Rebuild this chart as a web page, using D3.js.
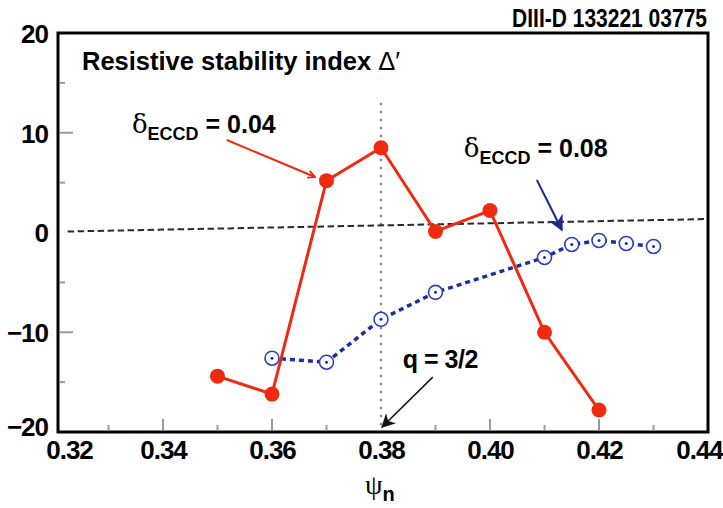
<!DOCTYPE html>
<meta charset="utf-8">
<head>
<style>
body { margin: 0; background: #fff; }
svg { display: block; font-family: "Liberation Sans", Arial, sans-serif; }
.lbl { font-weight: bold; fill: #000; }
.tick-in { stroke: #9a9a9a; stroke-width: 2px; }
</style>
</head>
<body>
<div id="chart"></div>
<script src="https://cdn.jsdelivr.net/npm/d3@7"></script>
<script>

// data
var psiRed   = [0.35, 0.36, 0.37, 0.38, 0.39, 0.40, 0.41, 0.42];
var deltaRed = [-14.4, -16.2, 5.2, 8.5, 0.1, 2.2, -10.0, -17.8];

var psiBlue   = [0.36, 0.37, 0.38, 0.39, 0.41, 0.415, 0.42, 0.425, 0.43];
var deltaBlue = [-12.6, -13.0, -8.7, -6.0, -2.5, -1.2, -0.8, -1.1, -1.4];

var xTicks = [0.32, 0.34, 0.36, 0.38, 0.40, 0.42, 0.44];
var yTicks = [-20, -10, 0, 10, 20];
var xMinor = [0.33, 0.34, 0.35, 0.36, 0.37, 0.39, 0.40, 0.41, 0.42, 0.43];
var yMinor = [-15, -10, -5, 5, 10, 15];

var zeroLine = [[0.3225, 0.1], [0.44, 1.35]];
var qSurface = 0.38;

var width = 723,
    height = 508;

var x = d3.scaleLinear().domain([0.32, 0.44]).range([54, 708]);
var y = d3.scaleLinear().domain([-20, 20]).range([432, 33]);

var svg = d3.select('#chart')
    .append('svg')
    .attr('width', width)
    .attr('height', height);

var defs = svg.append('defs');
defs.append('marker')
    .attr('id', 'headRed')
    .attr('viewBox', '0 0 10 10')
    .attr('refX', 9).attr('refY', 5)
    .attr('markerWidth', 9).attr('markerHeight', 9)
    .attr('markerUnits', 'userSpaceOnUse')
    .attr('orient', 'auto')
  .append('path')
    .attr('d', 'M1,1 L9,5 L1,9')
    .attr('fill', 'none')
    .attr('stroke', '#f02a10')
    .attr('stroke-width', 2);
defs.append('marker')
    .attr('id', 'headBlue')
    .attr('viewBox', '0 0 10 10')
    .attr('refX', 9).attr('refY', 5)
    .attr('markerWidth', 16).attr('markerHeight', 16)
    .attr('markerUnits', 'userSpaceOnUse')
    .attr('orient', 'auto')
  .append('path')
    .attr('d', 'M0,0 L10,5 L0,10 L3,5 Z')
    .attr('fill', '#1b2a8a');
defs.append('marker')
    .attr('id', 'headBlack')
    .attr('viewBox', '0 0 10 10')
    .attr('refX', 9).attr('refY', 5)
    .attr('markerWidth', 14).attr('markerHeight', 14)
    .attr('markerUnits', 'userSpaceOnUse')
    .attr('orient', 'auto')
  .append('path')
    .attr('d', 'M0,0 L10,5 L0,10 L3,5 Z')
    .attr('fill', '#111');

// inner gray ticks
svg.selectAll('.ytick-in')
    .data(yMinor)
    .enter().append('line')
    .attr('class', 'tick-in')
    .attr('x1', 60)
    .attr('x2', function (d) { return d % 10 === 0 ? 73 : 65; })
    .attr('y1', function (d) { return y(d); })
    .attr('y2', function (d) { return y(d); });

svg.selectAll('.xtick-in')
    .data(xMinor)
    .enter().append('line')
    .attr('class', 'tick-in')
    .attr('x1', function (d) { return x(d); })
    .attr('x2', function (d) { return x(d); })
    .attr('y1', 430)
    .attr('y2', function (d) { return Math.round(d * 100) % 2 === 0 ? 419 : 425; });

// q = 3/2 surface
svg.append('line')
    .attr('x1', x(qSurface)).attr('x2', x(qSurface))
    .attr('y1', y(13)).attr('y2', y(-20))
    .attr('stroke', '#8a8a8a')
    .attr('stroke-width', 2.2)
    .attr('stroke-dasharray', '2.5,5.5');

// zero reference
svg.append('line')
    .attr('x1', x(zeroLine[0][0])).attr('y1', y(zeroLine[0][1]))
    .attr('x2', x(zeroLine[1][0])).attr('y2', y(zeroLine[1][1]))
    .attr('stroke', '#2a2a2a')
    .attr('stroke-width', 2)
    .attr('stroke-dasharray', '6.5,3.5');

// frame
svg.append('rect')
    .attr('x', 58).attr('y', 33)
    .attr('width', 708 - 58).attr('height', 432 - 33)
    .attr('fill', 'none')
    .attr('stroke', '#000')
    .attr('stroke-width', 3);

// axes (labels only)
var xAxis = svg.append('g')
    .attr('transform', 'translate(0,441)')
    .call(d3.axisBottom(x).tickValues(xTicks).tickSize(0).tickPadding(0)
      .tickFormat(d3.format('.2f')));
xAxis.select('.domain').remove();
xAxis.selectAll('text')
    .attr('class', 'lbl')
    .attr('font-size', 26)
    .attr('letter-spacing', '-1px')
    .attr('font-family', '"Liberation Sans", Arial, sans-serif')
    .attr('dy', '0.71em')
    .attr('dx', function (d) { return d === 0.32 ? 15 : (d === 0.44 ? -9 : 0); });

var yAxis = svg.append('g')
    .attr('transform', 'translate(48,0)')
    .call(d3.axisLeft(y).tickValues(yTicks).tickSize(0).tickPadding(0));
yAxis.select('.domain').remove();
yAxis.selectAll('text')
    .attr('class', 'lbl')
    .attr('font-size', 26)
    .attr('letter-spacing', '-1px')
    .attr('font-family', '"Liberation Sans", Arial, sans-serif')
    .attr('dy', function (d) { return d === -20 ? '0.15em' : '0.36em'; });

// series
var redPts = psiRed.map(function (p, i) { return [p, deltaRed[i]]; });
var bluePts = psiBlue.map(function (p, i) { return [p, deltaBlue[i]]; });

var line = d3.line()
    .x(function (d) { return x(d[0]); })
    .y(function (d) { return y(d[1]); });

svg.append('path')
    .datum(bluePts)
    .attr('d', line)
    .attr('fill', 'none')
    .attr('stroke', '#1b2f9e')
    .attr('stroke-width', 3.5)
    .attr('stroke-dasharray', '5,4');

svg.selectAll('.bc')
    .data(bluePts)
    .enter().append('circle')
    .attr('cx', function (d) { return x(d[0]); })
    .attr('cy', function (d) { return y(d[1]); })
    .attr('r', 7)
    .attr('fill', '#fff')
    .attr('stroke', '#2b3fc0')
    .attr('stroke-width', 1.6);

svg.selectAll('.bd')
    .data(bluePts)
    .enter().append('circle')
    .attr('cx', function (d) { return x(d[0]); })
    .attr('cy', function (d) { return y(d[1]); })
    .attr('r', 1.5)
    .attr('fill', '#1b2f9e');

svg.append('path')
    .datum(redPts)
    .attr('d', line)
    .attr('fill', 'none')
    .attr('stroke', '#f02a10')
    .attr('stroke-width', 3);

svg.selectAll('.rc')
    .data(redPts)
    .enter().append('circle')
    .attr('cx', function (d) { return x(d[0]); })
    .attr('cy', function (d) { return y(d[1]); })
    .attr('r', 7.5)
    .attr('fill', '#f02a10');

// annotation arrows
svg.append('line')
    .attr('x1', x(0.3517)).attr('y1', y(9.27))
    .attr('x2', x(0.3679)).attr('y2', y(5.56))
    .attr('stroke', '#f02a10').attr('stroke-width', 2)
    .attr('marker-end', 'url(#headRed)');

svg.append('line')
    .attr('x1', x(0.4086)).attr('y1', y(5.26))
    .attr('x2', x(0.4132)).attr('y2', y(0.25))
    .attr('stroke', '#1b2a8a').attr('stroke-width', 2)
    .attr('marker-end', 'url(#headBlue)');

svg.append('line')
    .attr('x1', x(0.3895)).attr('y1', y(-14.5))
    .attr('x2', x(0.3802)).attr('y2', y(-19.5))
    .attr('stroke', '#111').attr('stroke-width', 1.5)
    .attr('marker-end', 'url(#headBlack)');

// texts
svg.append('text')
    .attr('class', 'lbl')
    .attr('transform', 'translate(707,27) scale(0.84,1)')
    .attr('text-anchor', 'end')
    .attr('font-size', 25)
    .text('DIII-D 133221 03775');

var title = svg.append('text')
    .attr('x', 82).attr('y', 70)
    .attr('font-size', 25.5);
title.append('tspan').attr('font-weight', 'bold').text('Resistive stability index ');
title.append('tspan').attr('font-weight', 'normal').text('\u0394\u2032');

function deltaLabel(px, py, val) {
  var t = svg.append('text')
      .attr('x', x(px)).attr('y', y(py))
      .attr('font-size', 25);
  t.append('tspan').attr('font-family', '"DejaVu Serif", serif').attr('font-size', 26).text('\u03b4');
  t.append('tspan').attr('font-weight', 'bold').attr('font-size', 18).attr('dy', 7).text('ECCD');
  t.append('tspan').attr('font-weight', 'bold').attr('dy', -7).text(' = ' + val);
}
deltaLabel(0.3343, 10.0, '0.04');
deltaLabel(0.3952, 7.6, '0.08');

svg.append('text')
    .attr('class', 'lbl')
    .attr('x', x(0.3840)).attr('y', y(-13.6))
    .attr('font-size', 25)
    .attr('letter-spacing', '-0.5px')
    .text('q = 3/2');

var xl = svg.append('text')
    .attr('x', 365).attr('y', 494);
xl.append('tspan').attr('font-family', '"Liberation Serif", serif').attr('font-size', 28).text('\u03c8');
xl.append('tspan').attr('font-weight', 'bold').attr('font-size', 20).attr('dy', 7).text('n');

</script>
</body>
